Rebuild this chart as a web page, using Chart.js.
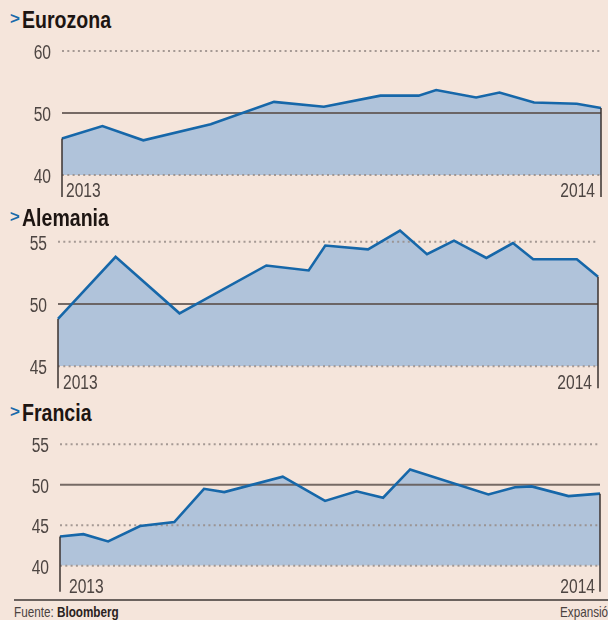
<!DOCTYPE html>
<html><head><meta charset="utf-8">
<script src="https://cdn.jsdelivr.net/npm/chart.js@4.4.1/dist/chart.umd.min.js"></script>
<style>
html,body{margin:0;padding:0;background:#f5e5db;width:608px;height:620px;overflow:hidden;position:relative;font-family:"Liberation Sans",Arial,sans-serif;}
canvas{position:absolute;left:0;}
.title{position:absolute;left:22px;font-weight:bold;font-size:23px;line-height:23px;color:#1d1512;white-space:nowrap;z-index:2;transform:scaleX(0.85);transform-origin:0 0;}
.arrow{position:absolute;left:10px;font-size:17px;line-height:17px;font-weight:bold;color:#1a6aaa;z-index:2;}
.rule{position:absolute;left:14px;top:599px;width:594px;height:2px;background:#6b625e;}
.foot{position:absolute;top:604px;font-size:15px;line-height:16px;color:#4a4240;white-space:nowrap;transform:scaleX(0.78);transform-origin:0 0;}
</style></head><body>
<div class="arrow" style="top:10px">&gt;</div><div class="title" style="top:9px">Eurozona</div>
<div class="arrow" style="top:208px">&gt;</div><div class="title" style="top:207px">Alemania</div>
<div class="arrow" style="top:403px">&gt;</div><div class="title" style="top:402px">Francia</div>
<canvas id="c0"></canvas><canvas id="c1"></canvas><canvas id="c2"></canvas>
<div class="rule"></div>
<div class="foot" style="left:14px">Fuente: <b style="color:#2a2220">Bloomberg</b></div>
<div class="foot" style="left:560px">Expansión</div>
<script>
// ---- data ----
const yearLabels = ["2013", "2014"];

const euroX = [0, 0.9, 1.81, 3.31, 4.72, 5.83, 7.09, 7.94, 8.33, 9.22, 9.74, 10.51, 11.46, 12];
const euroY = [45.9, 47.9, 45.6, 48.2, 51.8, 51.0, 52.8, 52.8, 53.7, 52.5, 53.3, 51.7, 51.5, 50.8];
const euroTicks = [40, 50, 60];

const deX = [0, 1.28, 2.7, 4.63, 5.57, 5.94, 6.89, 7.6, 8.2, 8.8, 9.52, 10.11, 10.56, 11.53, 12];
const deY = [48.8, 53.8, 49.25, 53.1, 52.7, 54.7, 54.4, 55.9, 54.0, 55.1, 53.7, 54.9, 53.6, 53.6, 52.2];
const deTicks = [45, 50, 55];

const frX = [0, 0.52, 1.07, 1.78, 2.54, 3.2, 3.65, 4.95, 5.89, 6.59, 7.18, 7.78, 9.52, 10.11, 10.48, 11.3, 12];
const frY = [43.6, 43.9, 43.0, 44.9, 45.4, 49.5, 49.1, 51.0, 48.0, 49.2, 48.4, 51.9, 48.8, 49.7, 49.8, 48.6, 48.9];
const frTicks = [40, 45, 50, 55];

// ---- layout / style ----
const FONT = '"Liberation Sans",Arial,sans-serif';
const TXT = '#4d4542';
const SX = 0.78;
const panels = [
  {id:'c0', xs:euroX, ys:euroY, ticks:euroTicks, min:40, max:60, left:62, right:601, top:51, bottom:175, tail:22, lb:21.5, lx:4, rx:6},
  {id:'c1', xs:deX, ys:deY, ticks:deTicks, min:45, max:56, left:58, right:598, top:229.4, bottom:366.2, tail:22, lb:23, lx:5, rx:6},
  {id:'c2', xs:frX, ys:frY, ticks:frTicks, min:40, max:55, left:60, right:600, top:444.3, bottom:565.7, tail:26, lb:27, lx:9, rx:5}
];

function narrowText(ctx, txt, x, y, align) {
  ctx.save();
  ctx.translate(x, y);
  ctx.scale(SX, 1);
  ctx.textAlign = align;
  ctx.fillText(txt, 0, 0);
  ctx.restore();
}

const deco = {
  id: 'deco',
  afterDatasetDraw(chart, args, o) {
    if (args.index !== 1) return;
    const {ctx, chartArea: a, scales: {y}} = chart;
    ctx.save();
    y.ticks.forEach(t => {
      const v = t.value;
      const py = y.getPixelForValue(v);
      ctx.beginPath();
      if (v === 50) {
        ctx.setLineDash([]);
        ctx.strokeStyle = 'rgba(95,85,80,0.85)';
      } else {
        ctx.setLineDash([2, 3.3]);
        ctx.strokeStyle = 'rgba(150,140,135,0.85)';
      }
      ctx.lineWidth = 2;
      ctx.moveTo(a.left, py);
      ctx.lineTo(a.right, py);
      ctx.stroke();
    });
    ctx.restore();
  },
  afterDatasetsDraw(chart, args, o) {
    const {ctx, chartArea: a, scales: {x, y}} = chart;
    const ds = chart.data.datasets[0].data;
    const f = ds[0], l = ds[ds.length - 1];
    ctx.save();
    ctx.strokeStyle = '#3b3331';
    ctx.lineWidth = 1.5;
    ctx.beginPath();
    const x0 = x.getPixelForValue(f.x), x1 = x.getPixelForValue(l.x);
    ctx.moveTo(x0, y.getPixelForValue(f.y));
    ctx.lineTo(x0, a.bottom + o.tail);
    ctx.moveTo(x1, y.getPixelForValue(l.y));
    ctx.lineTo(x1, a.bottom + o.tail);
    ctx.stroke();
    ctx.fillStyle = TXT;
    ctx.font = '20px ' + FONT;
    ctx.textBaseline = 'alphabetic';
    narrowText(ctx, yearLabels[0], x0 + o.lx, a.bottom + o.lb, 'left');
    narrowText(ctx, yearLabels[1], x1 - o.rx, a.bottom + o.lb, 'right');
    // y tick labels (positions from the library's y scale)
    ctx.textBaseline = 'middle';
    y.ticks.forEach(t => {
      narrowText(ctx, String(t.value), a.left - 11, y.getPixelForValue(t.value) + 2.5, 'right');
    });
    ctx.restore();
  }
};

panels.forEach(p => {
  const cv = document.getElementById(p.id);
  const cTop = Math.round(p.top - 16);
  const cH = Math.round(p.bottom + 30 - cTop);
  cv.style.top = cTop + 'px';
  cv.width = 608; cv.height = cH;
  cv.style.width = '608px'; cv.style.height = cH + 'px';
  const pts = p.xs.map((v, i) => ({x: v, y: p.ys[i]}));
  new Chart(cv, {
    type: 'line',
    data: {
      datasets: [
        {data: pts, borderColor: '#1667a9', borderWidth: 2.6, pointRadius: 0, fill: false, tension: 0, clip: false, borderJoinStyle: 'miter'},
        {data: pts, borderWidth: 0, borderColor: 'rgba(0,0,0,0)', backgroundColor: '#b0c3da', pointRadius: 0, fill: 'start', tension: 0}
      ]
    },
    options: {
      responsive: false, animation: false, devicePixelRatio: 1,
      layout: {padding: {top: p.top - cTop, bottom: cTop + cH - p.bottom, left: 0, right: 608 - p.right}},
      plugins: {legend: {display: false}, tooltip: {enabled: false},
        deco: {tail: p.tail, lb: p.lb, lx: p.lx, rx: p.rx}},
      scales: {
        x: {type: 'linear', min: 0, max: 12, display: false},
        y: {
          min: p.min, max: p.max,
          afterBuildTicks: s => { s.ticks = p.ticks.map(v => ({value: v})); },
          afterFit: s => { s.width = p.left; },
          grid: {display: false, drawTicks: false},
          border: {display: false},
          ticks: {display: false}
        }
      }
    },
    plugins: [deco]
  });
});
</script>
</body></html>
